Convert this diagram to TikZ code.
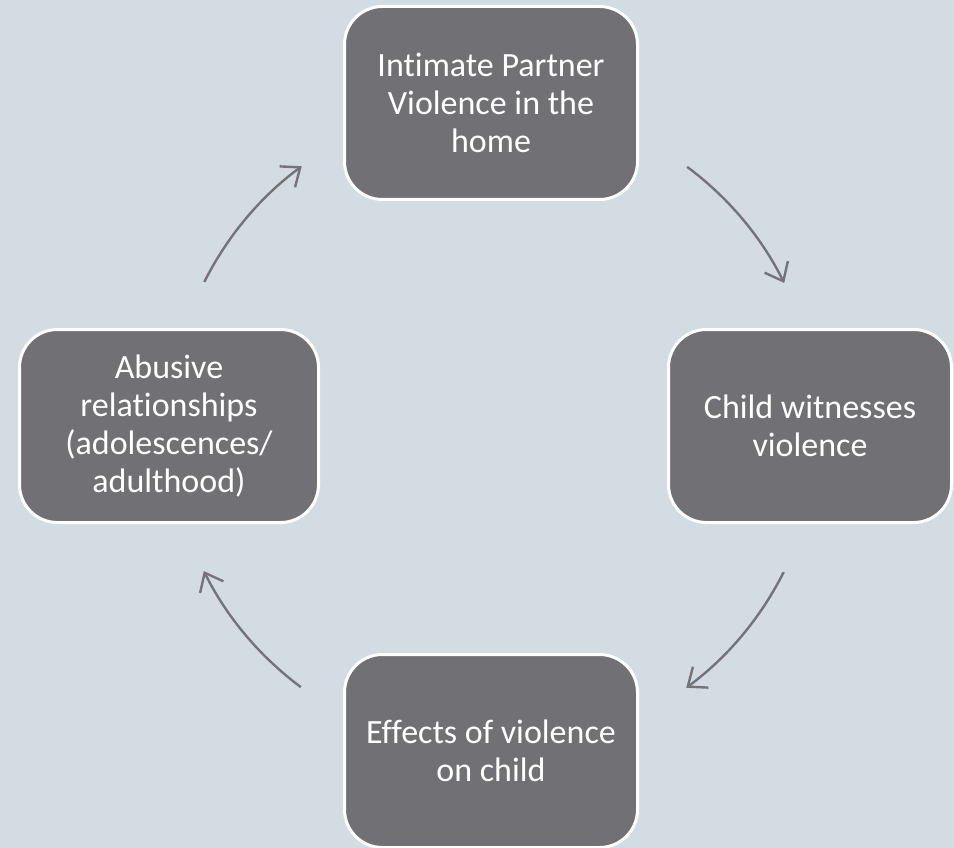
\documentclass[tikz,border=0pt]{standalone}
\usepackage{fontspec}
\setmainfont[Ligatures=NoCommon]{Carlito}
\usetikzlibrary{arrows.meta}
\definecolor{bgc}{HTML}{D4DCE3}
\definecolor{boxc}{HTML}{717074}
\definecolor{arrc}{HTML}{747377}
\tikzset{
  cyclebox/.style={rectangle, rounded corners=38pt, fill=boxc, draw=white,
    line width=3pt, text=white, align=center, inner sep=0pt,
    minimum height=193pt, font=\fontsize{34}{38}\selectfont},
  cyc/.style={draw=arrc, line width=2.4pt,
    -{Straight Barb[length=16pt,width=26pt,line width=2.4pt]}}
}
\begin{document}
\begin{tikzpicture}[x=1pt,y=1pt]
\fill[bgc] (0,0) rectangle (954,-848);
\useasboundingbox (0,0) rectangle (954,-848);
\begin{scope}
\clip (0,0) rectangle (954,-848);
\node[cyclebox, minimum width=293pt] (ipv) at (491,-103) {Intimate Partner\\Violence in the\\home};
\node[cyclebox, minimum width=283pt] (wit) at (810,-426) {Child witnesses\\violence};
\node[cyclebox, minimum width=293pt] (eff) at (491,-751) {Effects of violence\\on child};
\node[cyclebox, minimum width=299pt] (abu) at (169,-426) {Abusive\\relationships\\(adolescences/\\adulthood)};
\end{scope}
\coordinate (c) at (494,-427);
\coordinate (a1) at ([shift={(53.4:324)}]c);
\coordinate (a2) at ([shift={(-26.6:324)}]c);
\coordinate (a3) at ([shift={(233.4:324)}]c);
\coordinate (a4) at ([shift={(153.4:324)}]c);
\draw[cyc] (a1) arc[start angle=53.4, end angle=26.4, radius=324];
\draw[cyc] (a2) arc[start angle=-26.6, end angle=-53.6, radius=324];
\draw[cyc] (a3) arc[start angle=233.4, end angle=206.4, radius=324];
\draw[cyc] (a4) arc[start angle=153.4, end angle=126.4, radius=324];
\end{tikzpicture}
\end{document}
